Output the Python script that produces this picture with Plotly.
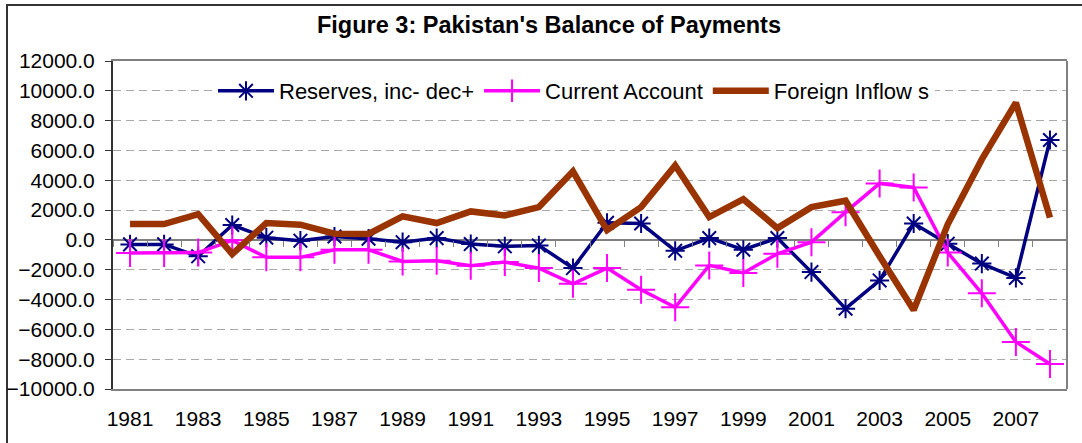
import plotly.graph_objects as go

years = list(range(1981, 2009))
reserves = [-300, -300, -1100, 1000, 150, -50, 230, 80, -150, 120, -280, -430, -370, -1890,
            1150, 1100, -730, 120, -660, 120, -2160, -4610, -2720, 1100, -250, -1590, -2550, 6700]
current_account = [-880, -880, -850, -30, -1170, -1170, -660, -660, -1440, -1400, -1730, -1490, -1890, -2940,
                   -1890, -3340, -4520, -1710, -2220, -930, -150, 1860, 3790, 3520, -850, -3580, -6840, -8320]
foreign_inflows = [1060, 1060, 1730, -950, 1130, 1020, 415, 400, 1575, 1130, 1910, 1640, 2200, 4600,
                   650, 2200, 5000, 1530, 2730, 790, 2200, 2630, -1100, -4700, 1050, 5400, 9200, 1500]
series_names = ["Reserves, inc- dec+", "Current Account", "Foreign Inflow s"]
title_text = "Figure 3: Pakistan's Balance of Payments"

FONT = "Liberation Sans, Arial, sans-serif"

fig = go.Figure()
fig.add_trace(go.Scatter(
    x=years, y=reserves, name=series_names[0], mode="lines+markers",
    line=dict(color="#000080", width=3.5),
    marker=dict(symbol="asterisk-open", size=16, color="#000080",
                line=dict(color="#000080", width=2)),
))
fig.add_trace(go.Scatter(
    x=years, y=current_account, name=series_names[1], mode="lines+markers",
    line=dict(color="#FF00FF", width=3.5),
    marker=dict(symbol="cross-thin-open", size=20, color="#FF00FF",
                line=dict(color="#FF00FF", width=2)),
))
fig.add_trace(go.Scatter(
    x=years, y=foreign_inflows, name=series_names[2], mode="lines",
    line=dict(color="#993300", width=6.5),
))
# invisible helper trace for the zero-line tick axis
fig.add_trace(go.Scatter(
    x=years, y=reserves, xaxis="x2", mode="lines", opacity=0,
    showlegend=False, hoverinfo="skip",
))

W, H = 1082, 443
fig.update_layout(
    width=W, height=H,
    margin=dict(l=113, r=15, t=61, b=54, autoexpand=False),
    paper_bgcolor="white", plot_bgcolor="white",
    font=dict(family=FONT, color="black"),
    title=dict(text="<b>" + title_text + "</b>", x=549 / W, xref="container", xanchor="center",
               y=1 - 25 / H, yref="container", yanchor="middle",
               font=dict(size=23.5, family=FONT, color="black")),
    xaxis=dict(range=[1980.5, 2008.5], tick0=1981, dtick=2, showgrid=False, zeroline=False,
               showline=True, linecolor="#808080", linewidth=2, mirror=True,
               ticks="", ticklabelstandoff=10, automargin=False,
               tickfont=dict(size=21, family=FONT, color="black")),
    xaxis2=dict(range=[1980.5, 2008.5], overlaying="x", anchor="free", position=10000 / 22000,
                tick0=1980.5, dtick=1, ticks="outside", ticklen=6, tickwidth=1,
                tickcolor="#808080", showticklabels=False, showgrid=False, zeroline=False,
                showline=False, automargin=False),
    yaxis=dict(range=[-10000, 12000], tick0=0, dtick=2000, tickformat=".1f",
               showgrid=True, gridcolor="#a8a8a8", gridwidth=1, griddash="8px,5px",
               zeroline=True, zerolinecolor="#808080", zerolinewidth=2,
               showline=True, linecolor="#333333", linewidth=2,
               ticks="outside", ticklen=6, tickcolor="#333333", tickwidth=1,
               ticklabelstandoff=6, automargin=False,
               tickfont=dict(size=21, family=FONT, color="black")),
    legend=dict(orientation="h", x=(213 - 113) / 954, xanchor="left",
                y=(389 - 91) / 328, yanchor="middle", bgcolor="white", itemwidth=56,
                borderwidth=0, font=dict(size=22, family=FONT, color="black")),
    showlegend=True,
)

# right border of plot area (gray)
fig.add_shape(type="line", xref="paper", yref="paper", x0=1, x1=1, y0=0, y1=1,
              line=dict(color="#808080", width=2))
# outer chart frame
fig.add_shape(type="rect", xref="paper", yref="paper",
              x0=(7 - 113) / 954, x1=1.2, y0=-0.6, y1=(389 - 5) / 328,
              line=dict(color="#333333", width=2), layer="below")

fig.write_html("out.html",
               config={"displayModeBar": False},
               post_script="document.body.style.margin='0';document.body.style.padding='0';")
